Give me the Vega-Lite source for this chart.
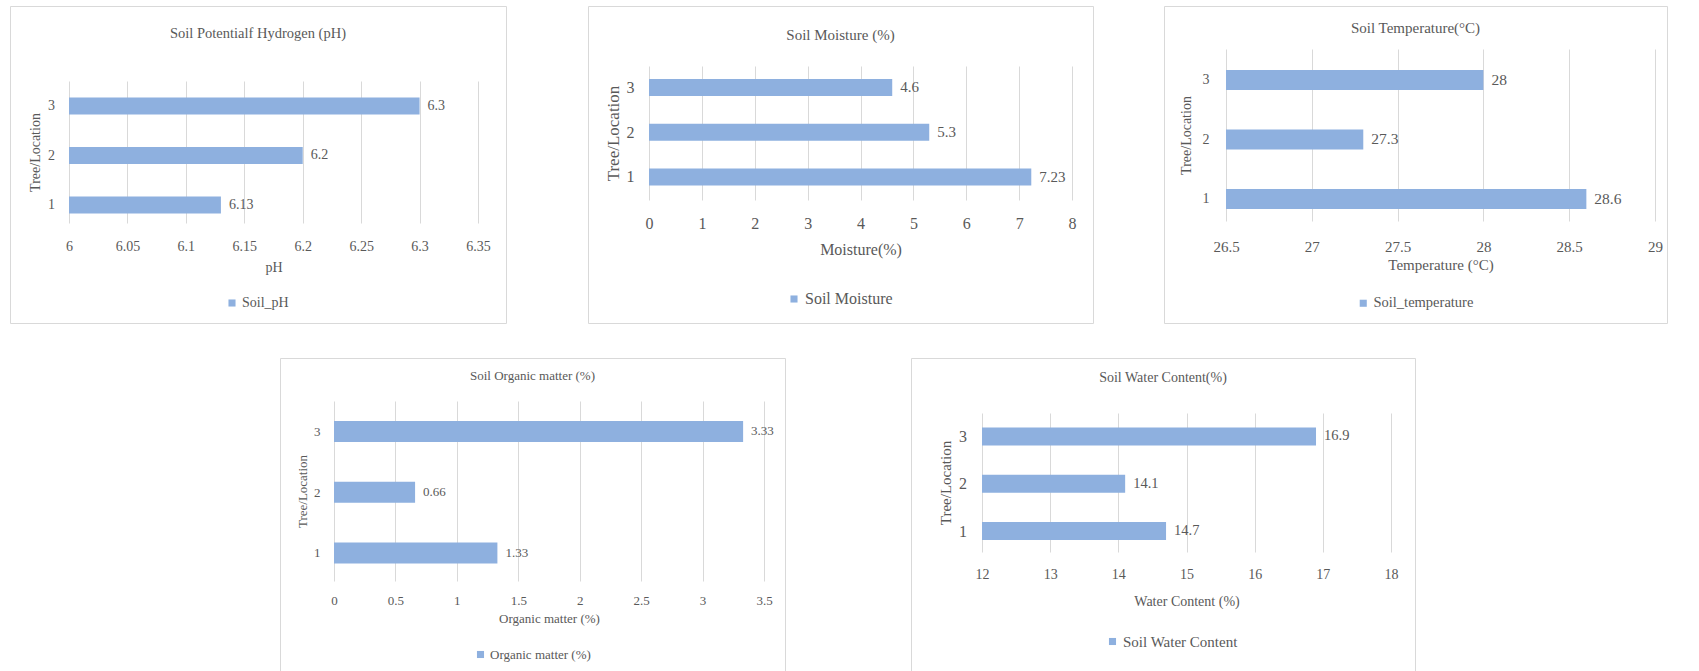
{
  "$schema": "https://vega.github.io/schema/vega-lite/v6.json",
  "background": "white",
  "padding": {"left": 9, "top": 5, "right": 0, "bottom": 0},
  "config": {
    "font": "Liberation Serif",
    "view": {"stroke": "#d9d9d9", "strokeWidth": 1},
    "axis": {"domain": false, "ticks": false, "tickSize": 0, "grid": false, "gridColor": "#d9d9d9", "gridWidth": 1, "labelColor": "#595959", "titleColor": "#595959", "titleFontWeight": "normal", "labelFlush": false, "labelOverlap": false, "labelFont": "Liberation Serif", "titleFont": "Liberation Serif"},
    "title": {"color": "#595959", "fontWeight": "normal", "font": "Liberation Serif"},
    "legend": {"labelColor": "#595959", "labelFont": "Liberation Serif", "symbolType": "square", "symbolSize": 50, "padding": 0, "labelOffset": 3, "symbolOpacity": 1}
  },
  "spacing": 33,
  "resolve": {"scale": {"color": "independent"}, "legend": {"color": "independent"}},
  "vconcat": [
    {
      "spacing": 69,
      "resolve": {"scale": {"color": "independent"}, "legend": {"color": "independent"}},
      "hconcat": [
        {
          "spacing": 80,
          "resolve": {"scale": {"color": "independent"}, "legend": {"color": "independent"}},
          "hconcat": [
            {
              "width": 496, "height": 317,
              "title": {"text": "Soil Potentialf Hydrogen (pH)", "offset": -42.5, "baseline": "middle", "fontSize": 14.5, "anchor": "middle", "frame": "group"},
              "data": {"values": [
                {"loc": 1, "value": 6.13, "label": "6.13", "series": "Soil_pH"},
                {"loc": 2, "value": 6.2, "label": "6.2", "series": "Soil_pH"},
                {"loc": 3, "value": 6.3, "label": "6.3", "series": "Soil_pH"}
              ]},
              "encoding": {
                "y": {"field": "loc", "type": "quantitative", "scale": {"domain": [0.636, 3.505], "range": [217, 75], "zero": false, "nice": false, "padding": 0}, "axis": {"title": "Tree/Location", "values": [1, 2, 3], "format": "d", "offset": -59, "labelPadding": 14.5, "titlePadding": 5, "labelFontSize": 14, "titleFontSize": 14}}
              },
              "resolve": {"axis": {"x": "independent"}},
              "layer": [
                {"mark": {"type": "bar", "orient": "horizontal", "height": 17},
                 "encoding": {
                   "x": {"field": "value", "type": "quantitative", "scale": {"domain": [6, 6.35], "range": [59, 468], "zero": false, "nice": false, "padding": 0}, "axis": {"orient": "bottom", "title": "pH", "values": [6, 6.05, 6.1, 6.15, 6.2, 6.25, 6.3, 6.35], "format": "~g", "offset": -100, "labelPadding": 16, "titlePadding": 7, "labelFontSize": 14, "titleFontSize": 14}},
                   "x2": {"datum": 6},
                   "color": {"field": "series", "type": "nominal", "scale": {"range": ["#8EB0DF"]}, "legend": {"title": null, "orient": "none", "legendX": 215, "legendY": 290, "labelFontSize": 14}}}},
                {"mark": {"type": "text", "align": "left", "baseline": "middle", "dx": 8, "fontSize": 14, "color": "#595959"},
                 "encoding": {
                   "x": {"field": "value", "type": "quantitative", "scale": {"domain": [6, 6.35], "range": [59, 468], "zero": false, "nice": false, "padding": 0}, "axis": {"orient": "top", "grid": true, "labels": false, "title": null, "values": [6, 6.05, 6.1, 6.15, 6.2, 6.25, 6.3, 6.35], "offset": 0}},
                   "text": {"field": "label", "type": "nominal"}}}
              ]
            },
            {
              "width": 505, "height": 317,
              "title": {"text": "Soil Moisture (%)", "offset": -43.5, "baseline": "middle", "fontSize": 15, "anchor": "middle", "frame": "group"},
              "data": {"values": [
                {"loc": 1, "value": 7.23, "label": "7.23", "series": "Soil Moisture"},
                {"loc": 2, "value": 5.3, "label": "5.3", "series": "Soil Moisture"},
                {"loc": 3, "value": 4.6, "label": "4.6", "series": "Soil Moisture"}
              ]},
              "encoding": {
                "y": {"field": "loc", "type": "quantitative", "scale": {"domain": [0.486, 3.48], "range": [194, 60], "zero": false, "nice": false, "padding": 0}, "axis": {"title": "Tree/Location", "values": [1, 2, 3], "format": "d", "offset": -61, "labelPadding": 15, "titlePadding": 4, "labelFontSize": 16, "titleFontSize": 17}}
              },
              "resolve": {"axis": {"x": "independent"}},
              "layer": [
                {"mark": {"type": "bar", "orient": "horizontal", "height": 17},
                 "encoding": {
                   "x": {"field": "value", "type": "quantitative", "scale": {"domain": [0, 8], "range": [61, 484], "zero": false, "nice": false, "padding": 0}, "axis": {"orient": "bottom", "title": "Moisture(%)", "values": [0, 1, 2, 3, 4, 5, 6, 7, 8], "format": "~g", "offset": -123, "labelPadding": 15, "titlePadding": 10, "labelFontSize": 16, "titleFontSize": 16}},
                   "x2": {"datum": 0},
                   "color": {"field": "series", "type": "nominal", "scale": {"range": ["#8EB0DF"]}, "legend": {"title": null, "orient": "none", "legendX": 198, "legendY": 285, "labelFontSize": 16}}}},
                {"mark": {"type": "text", "align": "left", "baseline": "middle", "dx": 8, "fontSize": 15, "color": "#595959"},
                 "encoding": {
                   "x": {"field": "value", "type": "quantitative", "scale": {"domain": [0, 8], "range": [61, 484], "zero": false, "nice": false, "padding": 0}, "axis": {"orient": "top", "grid": true, "labels": false, "title": null, "values": [0, 1, 2, 3, 4, 5, 6, 7, 8], "offset": 0}},
                   "text": {"field": "label", "type": "nominal"}}}
              ]
            }
          ]
        },
        {
          "width": 503, "height": 317,
          "title": {"text": "Soil Temperature(°C)", "offset": -36.5, "baseline": "middle", "fontSize": 15, "anchor": "middle", "frame": "group"},
          "data": {"values": [
            {"loc": 1, "value": 28.6, "label": "28.6", "series": "Soil_temperature"},
            {"loc": 2, "value": 27.3, "label": "27.3", "series": "Soil_temperature"},
            {"loc": 3, "value": 28, "label": "28", "series": "Soil_temperature"}
          ]},
          "encoding": {
            "y": {"field": "loc", "type": "quantitative", "scale": {"domain": [0.63, 3.52], "range": [215, 43], "zero": false, "nice": false, "padding": 0}, "axis": {"title": "Tree/Location", "values": [1, 2, 3], "format": "d", "offset": -62, "labelPadding": 17, "titlePadding": 8.5, "labelFontSize": 14, "titleFontSize": 14}}
          },
          "resolve": {"axis": {"x": "independent"}},
          "layer": [
            {"mark": {"type": "bar", "orient": "horizontal", "height": 20},
             "encoding": {
               "x": {"field": "value", "type": "quantitative", "scale": {"domain": [26.5, 29], "range": [62, 491], "zero": false, "nice": false, "padding": 0}, "axis": {"orient": "bottom", "title": "Temperature (°C)", "values": [26.5, 27, 27.5, 28, 28.5, 29], "format": "~g", "offset": -102, "labelPadding": 18, "titlePadding": 3, "labelFontSize": 15, "titleFontSize": 15}},
               "x2": {"datum": 26.5},
               "color": {"field": "series", "type": "nominal", "scale": {"range": ["#8EB0DF"]}, "legend": {"title": null, "orient": "none", "legendX": 192, "legendY": 290, "labelFontSize": 14.5}}}},
            {"mark": {"type": "text", "align": "left", "baseline": "middle", "dx": 8, "fontSize": 15.5, "color": "#595959"},
             "encoding": {
               "x": {"field": "value", "type": "quantitative", "scale": {"domain": [26.5, 29], "range": [62, 491], "zero": false, "nice": false, "padding": 0}, "axis": {"orient": "top", "grid": true, "labels": false, "title": null, "values": [26.5, 27, 27.5, 28, 28.5, 29], "offset": 0}},
               "text": {"field": "label", "type": "nominal"}}}
          ]
        }
      ]
    },
    {
      "spacing": 124,
      "resolve": {"scale": {"color": "independent"}, "legend": {"color": "independent"}},
      "hconcat": [
        {
          "width": 145, "height": 10,
          "view": {"stroke": null},
          "data": {"values": []},
          "mark": "point"
        },
        {
          "width": 505, "height": 315,
          "title": {"text": "Soil Organic matter (%)", "offset": -30.5, "baseline": "middle", "fontSize": 13, "anchor": "middle", "frame": "group"},
          "data": {"values": [
            {"loc": 1, "value": 1.33, "label": "1.33", "series": "Organic matter (%)"},
            {"loc": 2, "value": 0.66, "label": "0.66", "series": "Organic matter (%)"},
            {"loc": 3, "value": 3.33, "label": "3.33", "series": "Organic matter (%)"}
          ]},
          "encoding": {
            "y": {"field": "loc", "type": "quantitative", "scale": {"domain": [0.539, 3.502], "range": [223, 43], "zero": false, "nice": false, "padding": 0}, "axis": {"title": "Tree/Location", "values": [1, 2, 3], "format": "d", "offset": -54, "labelPadding": 14, "titlePadding": 4, "labelFontSize": 13, "titleFontSize": 13}}
          },
          "resolve": {"axis": {"x": "independent"}},
          "layer": [
            {"mark": {"type": "bar", "orient": "horizontal", "height": 21},
             "encoding": {
               "x": {"field": "value", "type": "quantitative", "scale": {"domain": [0, 3.5], "range": [54, 484], "zero": false, "nice": false, "padding": 0}, "axis": {"orient": "bottom", "title": "Organic matter (%)", "values": [0, 0.5, 1, 1.5, 2, 2.5, 3, 3.5], "format": "~g", "offset": -92, "labelPadding": 13, "titlePadding": 5, "labelFontSize": 13, "titleFontSize": 13}},
               "x2": {"datum": 0},
               "color": {"field": "series", "type": "nominal", "scale": {"range": ["#8EB0DF"]}, "legend": {"title": null, "orient": "none", "legendX": 194, "legendY": 290, "labelFontSize": 13}}}},
            {"mark": {"type": "text", "align": "left", "baseline": "middle", "dx": 8, "fontSize": 13, "color": "#595959"},
             "encoding": {
               "x": {"field": "value", "type": "quantitative", "scale": {"domain": [0, 3.5], "range": [54, 484], "zero": false, "nice": false, "padding": 0}, "axis": {"orient": "top", "grid": true, "labels": false, "title": null, "values": [0, 0.5, 1, 1.5, 2, 2.5, 3, 3.5], "offset": 0}},
               "text": {"field": "label", "type": "nominal"}}}
          ]
        },
        {
          "width": 504, "height": 314,
          "title": {"text": "Soil Water Content(%)", "offset": -33.5, "baseline": "middle", "fontSize": 14, "anchor": "middle", "frame": "group"},
          "data": {"values": [
            {"loc": 1, "value": 14.7, "label": "14.7", "series": "Soil Water Content"},
            {"loc": 2, "value": 14.1, "label": "14.1", "series": "Soil Water Content"},
            {"loc": 3, "value": 16.9, "label": "16.9", "series": "Soil Water Content"}
          ]},
          "encoding": {
            "y": {"field": "loc", "type": "quantitative", "scale": {"domain": [0.556, 3.497], "range": [194, 55], "zero": false, "nice": false, "padding": 0}, "axis": {"title": "Tree/Location", "values": [1, 2, 3], "format": "d", "offset": -71, "labelPadding": 15.5, "titlePadding": 5, "labelFontSize": 16, "titleFontSize": 15}}
          },
          "resolve": {"axis": {"x": "independent"}},
          "layer": [
            {"mark": {"type": "bar", "orient": "horizontal", "height": 18},
             "encoding": {
               "x": {"field": "value", "type": "quantitative", "scale": {"domain": [12, 18], "range": [71, 480], "zero": false, "nice": false, "padding": 0}, "axis": {"orient": "bottom", "title": "Water Content (%)", "values": [12, 13, 14, 15, 16, 17, 18], "format": "~g", "offset": -120, "labelPadding": 15, "titlePadding": 13, "labelFontSize": 14, "titleFontSize": 14}},
               "x2": {"datum": 12},
               "color": {"field": "series", "type": "nominal", "scale": {"range": ["#8EB0DF"]}, "legend": {"title": null, "orient": "none", "legendX": 194, "legendY": 276, "labelFontSize": 15}}}},
            {"mark": {"type": "text", "align": "left", "baseline": "middle", "dx": 8, "fontSize": 14.5, "color": "#595959"},
             "encoding": {
               "x": {"field": "value", "type": "quantitative", "scale": {"domain": [12, 18], "range": [71, 480], "zero": false, "nice": false, "padding": 0}, "axis": {"orient": "top", "grid": true, "labels": false, "title": null, "values": [12, 13, 14, 15, 16, 17, 18], "offset": 0}},
               "text": {"field": "label", "type": "nominal"}}}
          ]
        }
      ]
    }
  ]
}
